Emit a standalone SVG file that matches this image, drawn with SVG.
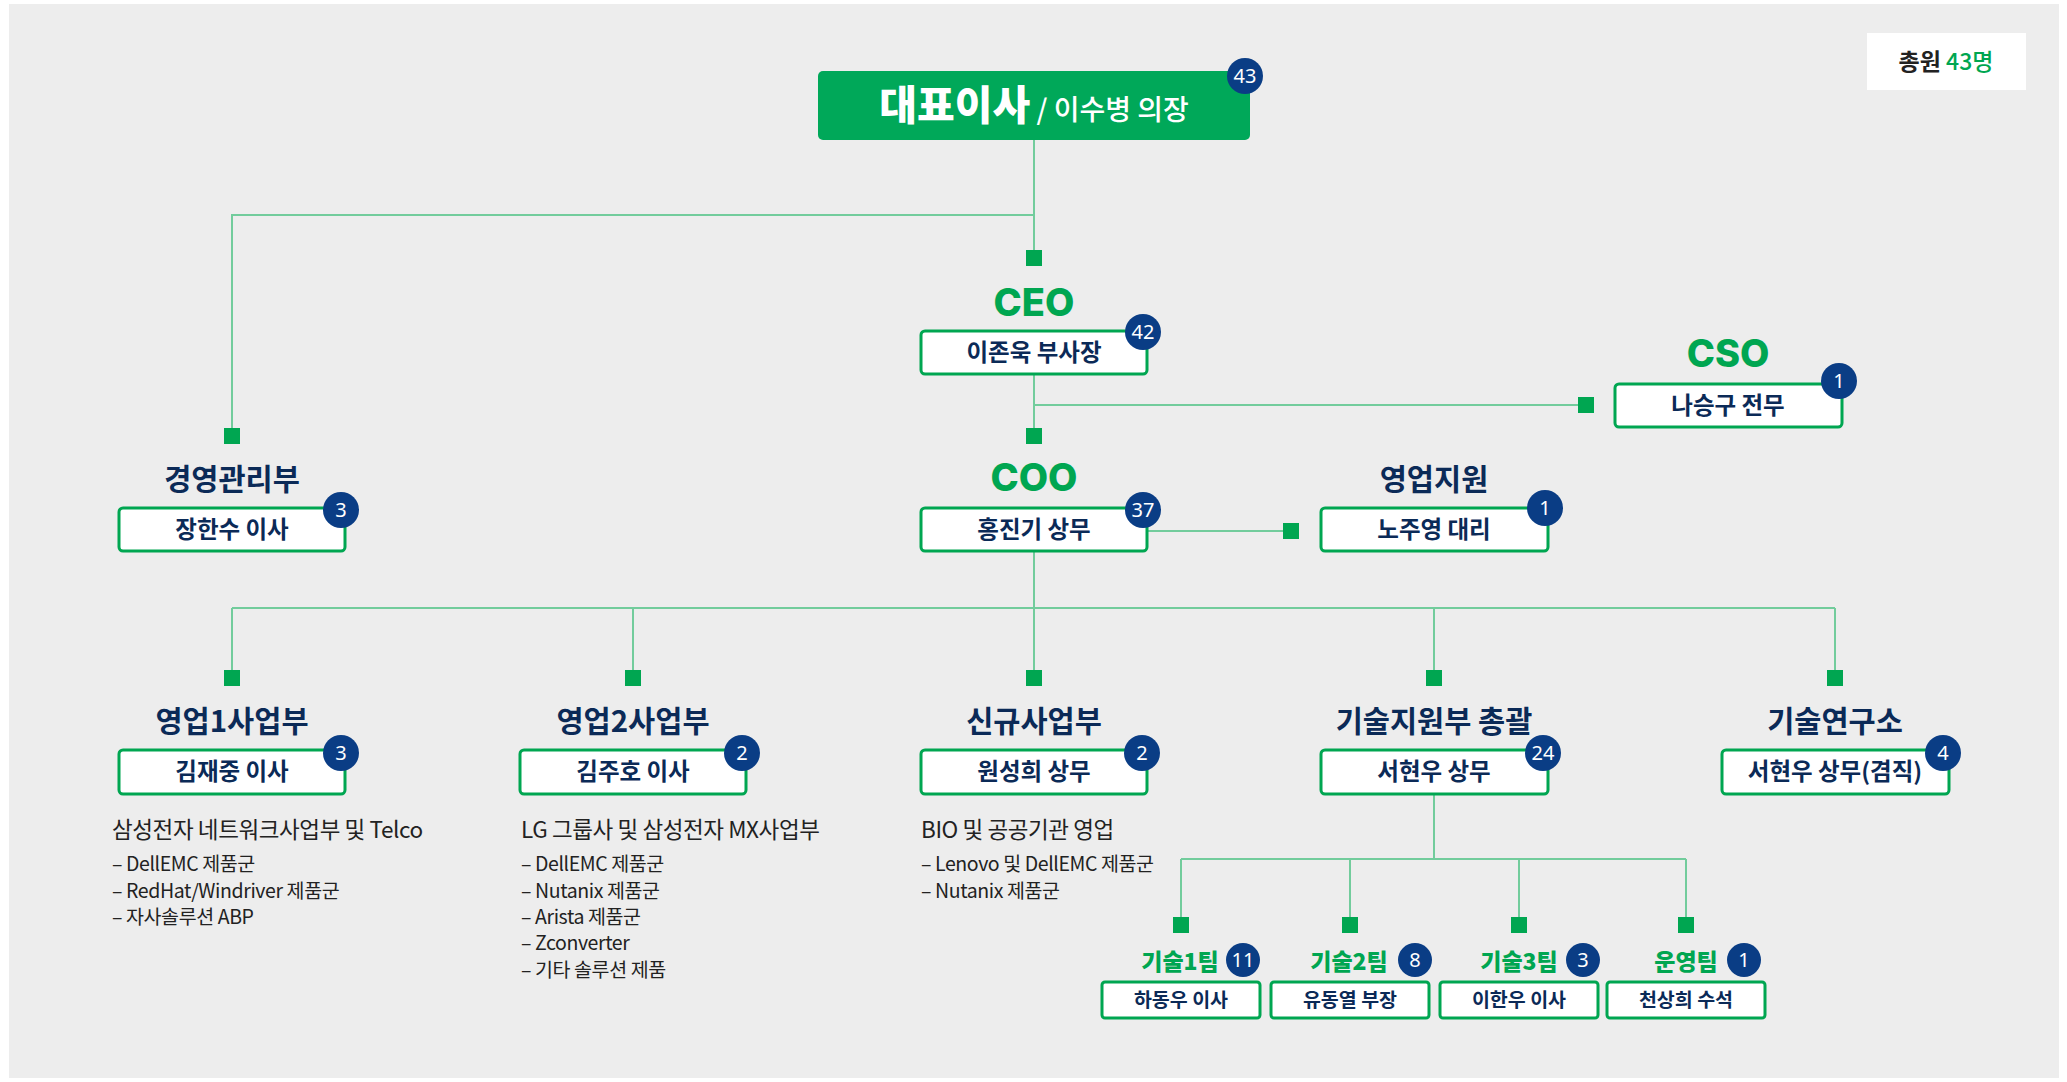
<svg xmlns="http://www.w3.org/2000/svg" width="2067" height="1082" viewBox="0 0 2067 1082">
<defs>
<style>
.kr{font-family:"Noto Sans CJK KR","Noto Sans",sans-serif}
.box{fill:#ffffff;stroke:#00A651;stroke-width:3}
.sq{fill:#00A651}
.ln{stroke:#72CC9C;stroke-width:2;fill:none}
.badge{fill:#0A3D85}
.bnum{font-family:"Noto Sans","Noto Sans CJK KR",sans-serif;font-size:20px;fill:#ffffff;text-anchor:middle}
.role{font-family:"Inter","Noto Sans",sans-serif;font-weight:800;font-size:38px;fill:#00A651;text-anchor:middle}
.title{font-family:"Noto Sans CJK KR",sans-serif;font-weight:700;font-size:29.5px;fill:#0B2A57;text-anchor:middle}
.name{font-family:"Noto Sans CJK KR",sans-serif;font-weight:700;font-size:23.5px;fill:#0B2A57;text-anchor:middle}
.tname{font-family:"Noto Sans CJK KR",sans-serif;font-weight:700;font-size:19.5px;fill:#0B2A57;text-anchor:middle}
.team{font-family:"Noto Sans CJK KR",sans-serif;font-weight:800;font-size:23px;fill:#00A651;text-anchor:middle}
.dh{font-family:"Noto Sans CJK KR",sans-serif;font-size:22.5px;fill:#222222;letter-spacing:-0.4px}
.dl{font-family:"Noto Sans CJK KR",sans-serif;font-size:19.5px;fill:#222222;letter-spacing:-0.4px}
</style>
</defs>
<rect x="0" y="0" width="2067" height="1082" fill="#ffffff"/>
<rect x="9" y="4" width="2050" height="1074" fill="#EDEDED"/>

<g id="connectors">
<path class="ln" d="M1034 140 V250 M1034 215 H232 V428"/>
<path class="ln" d="M1034 374 V428 M1034 405 H1578"/>
<path class="ln" d="M1147 531 H1283"/>
<path class="ln" d="M1034 551 V608 M232 608 H1835 M232 608 V670 M633 608 V670 M1034 608 V670 M1434 608 V670 M1835 608 V670"/>
<path class="ln" d="M1434 794 V859 M1181 859 H1686 M1181 859 V917 M1350 859 V917 M1519 859 V917 M1686 859 V917"/>
<rect class="sq" x="1026" y="250" width="16" height="16"/>
<rect class="sq" x="224" y="428" width="16" height="16"/>
<rect class="sq" x="1026" y="428" width="16" height="16"/>
<rect class="sq" x="1578" y="397" width="16" height="16"/>
<rect class="sq" x="1283" y="523" width="16" height="16"/>
<rect class="sq" x="224" y="670" width="16" height="16"/>
<rect class="sq" x="625" y="670" width="16" height="16"/>
<rect class="sq" x="1026" y="670" width="16" height="16"/>
<rect class="sq" x="1426" y="670" width="16" height="16"/>
<rect class="sq" x="1827" y="670" width="16" height="16"/>
<rect class="sq" x="1173" y="917" width="16" height="16"/>
<rect class="sq" x="1342" y="917" width="16" height="16"/>
<rect class="sq" x="1511" y="917" width="16" height="16"/>
<rect class="sq" x="1678" y="917" width="16" height="16"/>
</g>

<g id="total">
<rect x="1867" y="33" width="159" height="57" fill="#ffffff"/>
<text class="kr" x="1946" y="70" text-anchor="middle" font-size="23"><tspan font-weight="700" fill="#222222">총원</tspan> <tspan font-weight="500" fill="#00A651">43명</tspan></text>
</g>

<g id="ceo-top">
<rect x="818" y="71" width="432" height="69" rx="5" fill="#00A859"/>
<text class="kr" x="1034" y="120" text-anchor="middle" fill="#ffffff"><tspan font-size="41" font-weight="900">대표이사</tspan><tspan font-size="28" font-weight="500"> / 이수병 의장</tspan></text>
<circle class="badge" cx="1245" cy="76" r="18"/>
<text class="bnum" x="1245" y="83">43</text>
</g>

<g id="ceo">
<text class="role" x="1034" y="316">CEO</text>
<rect class="box" x="921" y="331" width="226" height="43" rx="4"/>
<text class="name" x="1034" y="361">이존욱 부사장</text>
<circle class="badge" cx="1143" cy="332" r="18"/>
<text class="bnum" x="1143" y="339">42</text>
</g>

<g id="cso">
<text class="role" x="1728" y="367">CSO</text>
<rect class="box" x="1615" y="384" width="227" height="43" rx="4"/>
<text class="name" x="1728" y="414">나승구 전무</text>
<circle class="badge" cx="1839" cy="381" r="18"/>
<text class="bnum" x="1839" y="388">1</text>
</g>

<g id="mgmt">
<text class="title" x="232" y="490">경영관리부</text>
<rect class="box" x="119" y="508" width="226" height="43" rx="4"/>
<text class="name" x="232" y="538">장한수 이사</text>
<circle class="badge" cx="341" cy="510" r="18"/>
<text class="bnum" x="341" y="517">3</text>
</g>

<g id="coo">
<text class="role" x="1034" y="491">COO</text>
<rect class="box" x="921" y="508" width="226" height="43" rx="4"/>
<text class="name" x="1034" y="538">홍진기 상무</text>
<circle class="badge" cx="1143" cy="510" r="18"/>
<text class="bnum" x="1143" y="517">37</text>
</g>

<g id="sales-support">
<text class="title" x="1434" y="490">영업지원</text>
<rect class="box" x="1321" y="508" width="227" height="43" rx="4"/>
<text class="name" x="1434" y="538">노주영 대리</text>
<circle class="badge" cx="1545" cy="508" r="18"/>
<text class="bnum" x="1545" y="515">1</text>
</g>

<g id="sales1">
<text class="title" x="232" y="732">영업1사업부</text>
<rect class="box" x="119" y="750" width="226" height="44" rx="4"/>
<text class="name" x="232" y="780">김재중 이사</text>
<circle class="badge" cx="341" cy="753" r="18"/>
<text class="bnum" x="341" y="760">3</text>
<text class="dh" x="112" y="838">삼성전자 네트워크사업부 및 Telco</text>
<text class="dl" x="112" y="871">– DellEMC 제품군</text>
<text class="dl" x="112" y="898">– RedHat/Windriver 제품군</text>
<text class="dl" x="112" y="924">– 자사솔루션 ABP</text>
</g>

<g id="sales2">
<text class="title" x="633" y="732">영업2사업부</text>
<rect class="box" x="520" y="750" width="226" height="44" rx="4"/>
<text class="name" x="633" y="780">김주호 이사</text>
<circle class="badge" cx="742" cy="753" r="18"/>
<text class="bnum" x="742" y="760">2</text>
<text class="dh" x="521" y="838">LG 그룹사 및 삼성전자 MX사업부</text>
<text class="dl" x="521" y="871">– DellEMC 제품군</text>
<text class="dl" x="521" y="898">– Nutanix 제품군</text>
<text class="dl" x="521" y="924">– Arista 제품군</text>
<text class="dl" x="521" y="950">– Zconverter</text>
<text class="dl" x="521" y="977">– 기타 솔루션 제품</text>
</g>

<g id="newbiz">
<text class="title" x="1034" y="732">신규사업부</text>
<rect class="box" x="921" y="750" width="226" height="44" rx="4"/>
<text class="name" x="1034" y="780">원성희 상무</text>
<circle class="badge" cx="1142" cy="753" r="18"/>
<text class="bnum" x="1142" y="760">2</text>
<text class="dh" x="921" y="838">BIO 및 공공기관 영업</text>
<text class="dl" x="921" y="871">– Lenovo 및 DellEMC 제품군</text>
<text class="dl" x="921" y="898">– Nutanix 제품군</text>
</g>

<g id="tech-support">
<text class="title" x="1434" y="732">기술지원부 총괄</text>
<rect class="box" x="1321" y="750" width="227" height="44" rx="4"/>
<text class="name" x="1434" y="780">서현우 상무</text>
<circle class="badge" cx="1543" cy="753" r="18"/>
<text class="bnum" x="1543" y="760">24</text>
</g>

<g id="lab">
<text class="title" x="1835" y="732">기술연구소</text>
<rect class="box" x="1722" y="750" width="227" height="44" rx="4"/>
<text class="name" x="1835" y="780">서현우 상무(겸직)</text>
<circle class="badge" cx="1943" cy="753" r="18"/>
<text class="bnum" x="1943" y="760">4</text>
</g>

<g id="tech1">
<text class="team" x="1180" y="970">기술1팀</text>
<circle class="badge" cx="1243" cy="960" r="17"/>
<text class="bnum" x="1243" y="967">11</text>
<rect class="box" x="1102" y="982" width="158" height="36" rx="3" stroke-width="2.5"/>
<text class="tname" x="1181" y="1007">하동우 이사</text>
</g>

<g id="tech2">
<text class="team" x="1349" y="970">기술2팀</text>
<circle class="badge" cx="1415" cy="960" r="17"/>
<text class="bnum" x="1415" y="967">8</text>
<rect class="box" x="1271" y="982" width="158" height="36" rx="3" stroke-width="2.5"/>
<text class="tname" x="1350" y="1007">유동열 부장</text>
</g>

<g id="tech3">
<text class="team" x="1519" y="970">기술3팀</text>
<circle class="badge" cx="1583" cy="960" r="17"/>
<text class="bnum" x="1583" y="967">3</text>
<rect class="box" x="1440" y="982" width="158" height="36" rx="3" stroke-width="2.5"/>
<text class="tname" x="1519" y="1007">이한우 이사</text>
</g>

<g id="ops">
<text class="team" x="1686" y="970">운영팀</text>
<circle class="badge" cx="1744" cy="960" r="17"/>
<text class="bnum" x="1744" y="967">1</text>
<rect class="box" x="1607" y="982" width="158" height="36" rx="3" stroke-width="2.5"/>
<text class="tname" x="1686" y="1007">천상희 수석</text>
</g>
</svg>
